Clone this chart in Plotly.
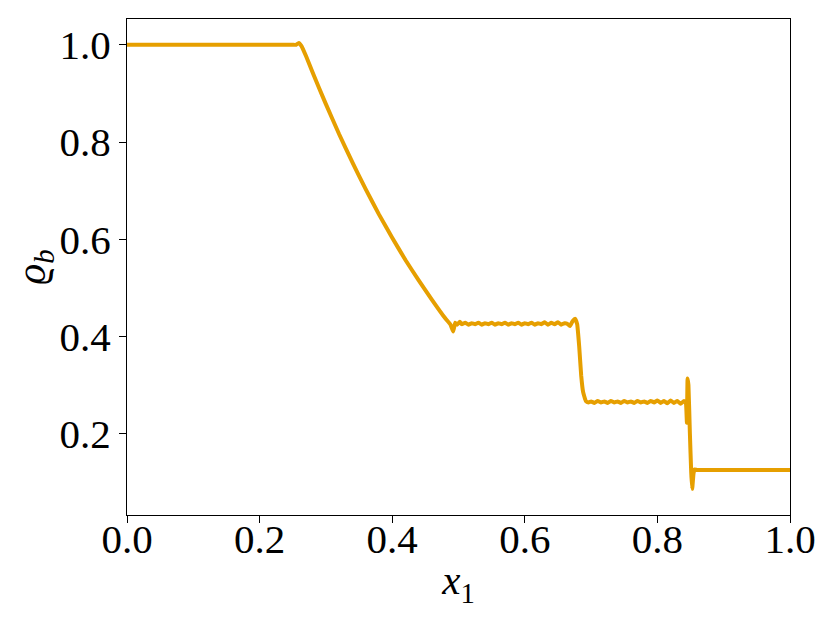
import plotly.graph_objects as go

# position x_1 and density rho_b
x_left = [0.0, 0.10, 0.20, 0.25, 0.255, 0.259, 0.263]
rho_left = [1.0, 1.0, 1.0, 1.0, 1.0, 1.004, 0.998]

x_rare = [0.27, 0.28, 0.29, 0.30, 0.32, 0.34, 0.36, 0.38, 0.40, 0.42, 0.44, 0.46, 0.48, 0.488, 0.492, 0.495, 0.498, 0.502]
rho_rare = [0.977, 0.943, 0.910, 0.878, 0.816, 0.758, 0.703, 0.651, 0.603, 0.557, 0.515, 0.475, 0.437, 0.424, 0.410, 0.428, 0.424, 0.430]

x_plat1 = [0.505, 0.510, 0.515, 0.520, 0.525, 0.530, 0.535, 0.540, 0.545, 0.550,
           0.555, 0.560, 0.565, 0.570, 0.575, 0.580, 0.585, 0.590, 0.595, 0.600,
           0.605, 0.610, 0.615, 0.620, 0.625, 0.630, 0.635, 0.640, 0.645, 0.650,
           0.655, 0.660]
rho_plat1 = [0.425, 0.428, 0.424, 0.427, 0.425, 0.428, 0.424, 0.427, 0.425, 0.428,
             0.424, 0.427, 0.425, 0.428, 0.424, 0.427, 0.425, 0.428, 0.424, 0.427,
             0.425, 0.428, 0.424, 0.427, 0.425, 0.429, 0.424, 0.428, 0.425, 0.429,
             0.424, 0.427]

x_contact = [0.664, 0.668, 0.672, 0.676, 0.679, 0.682, 0.685, 0.688, 0.692, 0.696]
rho_contact = [0.426, 0.421, 0.431, 0.436, 0.425, 0.380, 0.320, 0.285, 0.267, 0.264]

x_plat2 = [0.700, 0.705, 0.710, 0.715, 0.720, 0.725, 0.730, 0.735, 0.740, 0.745,
           0.750, 0.755, 0.760, 0.765, 0.770, 0.775, 0.780, 0.785, 0.790, 0.795,
           0.800, 0.805, 0.810, 0.815, 0.820, 0.825, 0.830, 0.835, 0.840]
rho_plat2 = [0.266, 0.263, 0.267, 0.264, 0.266, 0.263, 0.267, 0.264, 0.266, 0.263,
             0.267, 0.264, 0.266, 0.263, 0.267, 0.264, 0.266, 0.263, 0.267, 0.264,
             0.268, 0.263, 0.267, 0.262, 0.268, 0.263, 0.267, 0.261, 0.267]

x_shock = [0.843, 0.8445, 0.8455, 0.8468, 0.849, 0.851, 0.8525, 0.8545, 0.856, 0.86, 0.90, 0.95, 1.0]
rho_shock = [0.262, 0.222, 0.313, 0.300, 0.200, 0.120, 0.086, 0.118, 0.126, 0.125, 0.125, 0.125, 0.125]

x = x_left + x_rare + x_plat1 + x_contact + x_plat2 + x_shock
rho = rho_left + rho_rare + rho_plat1 + rho_contact + rho_plat2 + rho_shock

x_ticks = [0.0, 0.2, 0.4, 0.6, 0.8, 1.0]
y_ticks = [0.2, 0.4, 0.6, 0.8, 1.0]

FONT = "Liberation Serif"
FS = 41

fig = go.Figure()
fig.add_trace(go.Scatter(x=x, y=rho, mode="lines",
                         line=dict(color="#E69F00", width=4, shape="spline", smoothing=0.3),
                         showlegend=False))

axis_common = dict(showgrid=False, zeroline=False, showline=True, mirror=True,
                   linecolor="black", linewidth=1.2, ticks="outside",
                   ticklen=7, tickwidth=1.2, tickcolor="black",
                   tickfont=dict(family=FONT, size=FS, color="black"))

fig.update_xaxes(range=[0, 1], tickvals=x_ticks, tickformat=".1f",
                 ticklabelstandoff=-19,
                 title=dict(text="<i>x</i><sub>1</sub>",
                            font=dict(family=FONT, size=FS, color="black"),
                            standoff=4),
                 **axis_common)
fig.update_yaxes(range=[0.0322, 1.0532], tickvals=y_ticks, tickformat=".1f",
                 title=dict(text="<i>ϱ</i><sub><i>b</i></sub>",
                            font=dict(family=FONT, size=FS, color="black"),
                            standoff=10),
                 **axis_common)

fig.update_layout(width=830, height=630,
                  margin=dict(l=119, r=48, t=11, b=123),
                  plot_bgcolor="white", paper_bgcolor="white")

fig.write_html("out.html")
